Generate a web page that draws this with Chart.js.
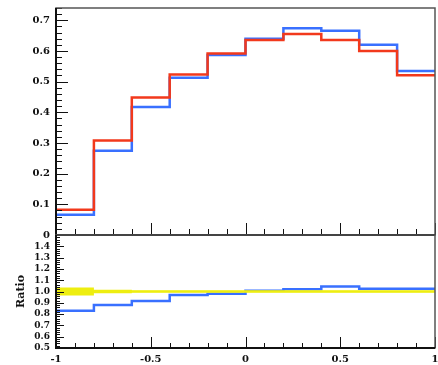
<!DOCTYPE html>
<html>
<head>
<meta charset="utf-8">
<script src="https://cdn.jsdelivr.net/npm/chart.js@4.4.0/dist/chart.umd.min.js"></script>
<style>
  body { margin: 0; background: #fff; }
  #wrap { position: relative; width: 438px; height: 365px; }
  canvas { position: absolute; left: 0; top: 0; }
</style>
</head>
<body>
<div id="wrap">
  <canvas id="mainChart" width="438" height="365"></canvas>
  <canvas id="ratioChart" width="438" height="365"></canvas>
</div>
<script>
// Histogram binning and contents
const binEdges = [-1, -0.8, -0.6, -0.4, -0.2, 0, 0.2, 0.4, 0.6, 0.8, 1];
const redValues = [0.082, 0.308, 0.448, 0.523, 0.592, 0.636, 0.655, 0.636, 0.600, 0.521];
const blueValues = [0.066, 0.275, 0.417, 0.513, 0.587, 0.640, 0.674, 0.666, 0.620, 0.535];
const ratioValues = [0.83, 0.88, 0.915, 0.97, 0.98, 1.006, 1.02, 1.045, 1.025, 1.025];
const bandHalfWidth = [0.035, 0.015, 0.006, 0.006, 0.006, 0.006, 0.006, 0.006, 0.006, 0.006];

// Axis tick labels
const xTickValues = [-1, -0.5, 0, 0.5, 1];
const mainTickValues = [0, 0.1, 0.2, 0.3, 0.4, 0.5, 0.6, 0.7];
const ratioTickValues = [0.5, 0.6, 0.7, 0.8, 0.9, 1.0, 1.1, 1.2, 1.3, 1.4];

const RED = '#f2391c';
const BLUE = 'rgba(40, 100, 255, 0.92)';
const YELLOW = '#eeee10';
const labelFont = { family: 'DejaVu Serif', size: 10, weight: 'bold' };

// step points: one per left bin edge plus the closing right edge
function histPoints(values) {
    const pts = binEdges.slice(0, values.length).map((x, i) => ({ x: x, y: values[i] }));
    pts.push({ x: binEdges[binEdges.length - 1], y: values[values.length - 1] });
    return pts;
}

function stepLine(values, color, width) {
    return {
        data: histPoints(values),
        borderColor: color,
        borderWidth: width,
        stepped: 'before',
        pointRadius: 0,
        fill: false
    };
}

// ticks pointing into the frame, ROOT style
const innerTicks = {
    id: 'innerTicks',
    afterDatasetsDraw(chart, args, opts) {
        const { ctx, chartArea: a, scales } = chart;
        ctx.save();
        ctx.strokeStyle = '#111';
        ctx.lineWidth = 1;

        const xs = opts.x;
        const nx = Math.round((xs.max - xs.min) / xs.step);
        for (let i = 0; i <= nx; i++) {
            const px = Math.round(scales.x.getPixelForValue(xs.min + i * xs.step)) + 0.5;
            const len = i % xs.every === 0 ? xs.majorLen : xs.minorLen;
            ctx.beginPath();
            ctx.moveTo(px, a.bottom);
            ctx.lineTo(px, a.bottom - len);
            ctx.stroke();
        }

        const ys = opts.y;
        const ny = Math.round((ys.max - ys.min) / ys.step);
        for (let i = 0; i <= ny; i++) {
            const py = Math.round(scales.y.getPixelForValue(ys.min + i * ys.step)) + 0.5;
            if (py < a.top || py > a.bottom + 1) continue;
            const len = i % ys.every === 0 ? ys.majorLen : ys.minorLen;
            ctx.beginPath();
            ctx.moveTo(a.left, py);
            ctx.lineTo(a.left + len, py);
            ctx.stroke();
        }

        // frame
        ctx.strokeStyle = '#555';
        ctx.lineWidth = 1.5;
        ctx.strokeRect(a.left, a.top, a.right - a.left, a.bottom - a.top);
        ctx.strokeStyle = '#111';
        ctx.lineWidth = 2;
        ctx.beginPath();
        ctx.moveTo(a.left, a.top);
        ctx.lineTo(a.left, a.bottom);
        ctx.lineTo(a.right, a.bottom);
        ctx.stroke();
        ctx.restore();
    }
};

function fixedTicks(values) {
    return function (scale) {
        scale.ticks = values.map(v => ({ value: v }));
    };
}

function fixedWidth(scale) {
    scale.width = 56;
    scale.paddingTop = 0;
    scale.paddingBottom = 0;
}

function fmt(v) {
    return v === 0 ? '0' : (Number.isInteger(v) ? String(v) : v.toFixed(1));
}

// Upper panel: the two distributions
new Chart(document.getElementById('mainChart'), {
    type: 'line',
    data: {
        datasets: [
            stepLine(redValues, RED, 2.5),
            stepLine(blueValues, BLUE, 2.5)
        ]
    },
    options: {
        responsive: false,
        animation: false,
        layout: { padding: { top: 8, right: 3, bottom: 130, left: 0 } },
        plugins: {
            legend: { display: false },
            tooltip: { enabled: false },
            innerTicks: {
                x: { min: -1, max: 1, step: 0.1, every: 5, majorLen: 12, minorLen: 6 },
                y: { min: 0, max: 0.74, step: 0.02, every: 5, majorLen: 12, minorLen: 6 }
            }
        },
        scales: {
            x: { type: 'linear', min: -1, max: 1, display: false },
            y: {
                type: 'linear',
                min: 0,
                max: 0.74,
                afterBuildTicks: fixedTicks(mainTickValues),
                afterFit: fixedWidth,
                grid: { display: false, drawTicks: false },
                border: { display: false },
                ticks: {
                    font: labelFont,
                    color: '#111',
                    padding: 6,
                    autoSkip: false,
                    callback: v => fmt(v)
                }
            }
        }
    },
    plugins: [innerTicks]
});

// Lower panel: ratio with reference band
const bandUpper = bandHalfWidth.map(h => 1 + h);
const bandLower = bandHalfWidth.map(h => 1 - h);
const unity = bandHalfWidth.map(() => 1);

new Chart(document.getElementById('ratioChart'), {
    type: 'line',
    data: {
        datasets: [
            stepLine(bandUpper, 'rgba(0,0,0,0)', 0),
            Object.assign(stepLine(bandLower, 'rgba(0,0,0,0)', 0), { fill: '-1', backgroundColor: YELLOW }),
            stepLine(unity, YELLOW, 2.5),
            stepLine(ratioValues, BLUE, 2.5)
        ]
    },
    options: {
        responsive: false,
        animation: false,
        layout: { padding: { top: 235, right: 3, bottom: 0, left: 0 } },
        plugins: {
            legend: { display: false },
            tooltip: { enabled: false },
            filler: { propagate: false },
            innerTicks: {
                x: { min: -1, max: 1, step: 0.1, every: 5, majorLen: 11, minorLen: 5 },
                y: { min: 0.5, max: 1.5, step: 0.02, every: 5, majorLen: 8, minorLen: 4 }
            }
        },
        scales: {
            x: {
                type: 'linear',
                min: -1,
                max: 1,
                afterBuildTicks: fixedTicks(xTickValues),
                afterFit(scale) { scale.height = 17; scale.paddingLeft = 0; scale.paddingRight = 0; },
                grid: { display: false, drawTicks: false },
                border: { display: false },
                ticks: {
                    font: labelFont,
                    color: '#111',
                    padding: 5,
                    maxRotation: 0,
                    autoSkip: false,
                    callback: v => fmt(v)
                }
            },
            y: {
                type: 'linear',
                min: 0.5,
                max: 1.5,
                afterBuildTicks: fixedTicks(ratioTickValues),
                afterFit: fixedWidth,
                grid: { display: false, drawTicks: false },
                border: { display: false },
                title: {
                    display: true,
                    text: 'Ratio',
                    font: { family: 'DejaVu Serif', size: 11, weight: 'bold' },
                    color: '#111',
                    padding: { top: 15, bottom: 0 }
                },
                ticks: {
                    font: { family: 'DejaVu Serif', size: 9, weight: 'bold' },
                    color: '#111',
                    padding: 6,
                    autoSkip: false,
                    callback: v => v.toFixed(1)
                }
            }
        }
    },
    plugins: [innerTicks]
});
</script>
</body>
</html>
